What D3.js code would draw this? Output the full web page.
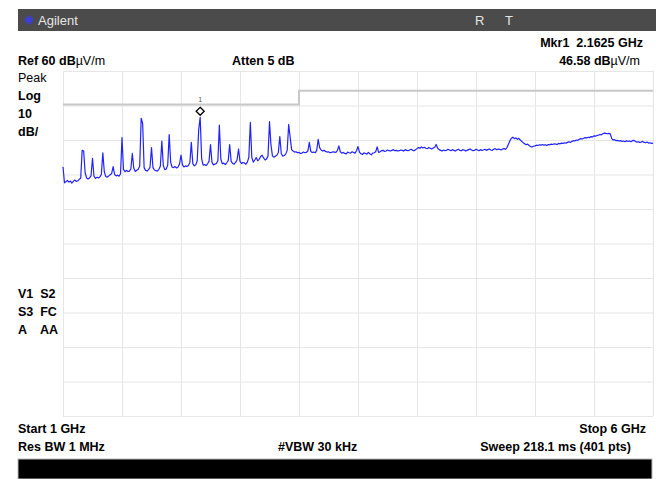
<!DOCTYPE html>
<html>
<head>
<meta charset="utf-8">
<script src="https://cdn.jsdelivr.net/npm/d3@7"></script>
<style>
  html, body { margin: 0; padding: 0; background: #fff; }
  svg { display: block; }
  text { font-family: "Liberation Sans", Arial, sans-serif; white-space: pre; }
</style>
</head>
<body>
<svg id="chart" width="656" height="479"></svg>
<script>
// ---- data ----
const startGHz = 1;
const stopGHz = 6;
const sweepPoints = 401;
const refLevel = 60;        // dBuV/m
const dbPerDiv = 10;
const divisions = 10;

// trace values, dBuV/m, one per sweep point (401)
const traceLevels = [
  32.2, 27.6, 27.9, 28.3, 27.8, 28.1, 27.5, 28.0, 28.4, 28.0,
  28.2, 28.6, 28.9, 37.0, 36.8, 30.5, 29.0, 28.7, 29.0, 29.6,
  34.7, 29.5, 28.9, 29.2, 29.0, 29.3, 30.0, 36.3, 30.8, 29.4,
  29.2, 29.6, 29.9, 30.3, 32.3, 30.0, 29.6, 29.8, 29.5, 30.2,
  40.7, 31.5, 30.8, 31.2, 30.9, 31.0, 31.6, 36.1, 31.8, 30.9,
  31.2, 31.5, 32.4, 46.3, 44.8, 32.0, 31.2, 31.0, 31.4, 32.1,
  37.8, 32.0, 31.3, 31.1, 31.0, 31.5, 32.4, 39.7, 32.6, 31.4,
  31.6, 32.8, 41.6, 33.5, 32.1, 32.0, 32.3, 31.9, 32.2, 33.0,
  35.6, 32.8, 32.2, 32.5, 32.3, 32.6, 33.4, 39.3, 33.2, 32.5,
  32.8, 34.0, 43.0, 46.6, 34.5, 32.7, 32.9, 32.6, 33.1, 33.8,
  38.7, 33.5, 32.8, 33.0, 33.2, 34.0, 44.3, 34.5, 33.1, 33.3,
  32.9, 33.4, 34.0, 38.7, 33.8, 33.2, 33.0, 33.5, 34.2, 37.4,
  33.8, 33.2, 33.5, 33.3, 33.0, 33.6, 35.0, 45.1, 35.0, 33.6,
  34.2, 34.9, 34.0, 34.4, 35.2, 35.6, 34.8, 34.2, 34.5, 35.4,
  45.3, 38.5, 35.4, 35.0, 35.3, 35.6, 36.4, 41.0, 36.0, 35.3,
  35.5, 35.9, 37.0, 44.5, 40.8, 37.2, 36.8, 36.5, 36.6, 36.3,
  36.4, 36.1, 36.2, 36.5, 36.3, 36.4, 36.8, 39.3, 36.7, 36.4,
  36.5, 36.3, 37.0, 40.2, 37.8, 37.1, 36.8, 37.0, 36.7, 36.5,
  36.6, 36.3, 36.4, 36.6, 36.5, 36.4, 36.9, 38.3, 36.6, 36.2,
  36.4, 36.1, 36.0, 36.5, 36.3, 36.2, 36.6, 36.4, 36.2, 36.9,
  38.1, 36.5, 36.0, 35.8, 36.3, 36.1, 35.9, 36.4, 36.0, 35.7,
  36.2, 36.3, 36.6, 38.0, 36.4, 36.6, 36.9, 37.0, 36.7, 36.8,
  37.1, 36.9, 36.8, 37.0, 37.2, 36.9, 37.0, 36.8, 36.9, 37.1,
  37.0, 36.8, 37.2, 37.0, 36.9, 37.1, 37.3, 37.0, 36.9, 37.2,
  37.5, 37.8, 37.6, 38.0, 37.7, 37.9, 37.6, 37.5, 37.8, 37.6,
  37.4, 37.7, 37.9, 38.7, 37.6, 37.2, 37.0, 36.8, 37.1, 36.9,
  37.0, 37.3, 37.1, 36.9, 37.2, 37.0, 36.8, 37.1, 37.3, 37.0,
  36.9, 37.2, 37.1, 36.8, 37.0, 37.2, 37.4, 37.1, 36.9, 37.0,
  37.3, 37.1, 36.9, 37.2, 37.0, 37.1, 37.3, 37.0, 37.2, 37.4,
  37.1, 37.0, 37.3, 37.5, 37.2, 37.4, 37.3, 37.1, 37.4, 37.5,
  37.3, 37.8, 38.8, 39.8, 40.5, 40.8, 40.4, 40.6, 40.2, 40.5,
  40.0, 39.6, 39.2, 38.9, 38.6, 38.8, 38.4, 38.1, 38.0, 38.2,
  38.3, 38.5, 38.4, 38.6, 38.5, 38.7, 38.5, 38.6, 38.4, 38.7,
  38.6, 38.8, 38.7, 38.9, 38.8, 38.7, 39.0, 38.9, 39.1, 39.0,
  39.2, 39.1, 39.3, 39.5, 39.3, 39.6, 39.8, 39.7, 40.0, 39.9,
  40.2, 40.4, 40.3, 40.5, 40.7, 40.6, 40.8, 40.7, 41.0, 40.9,
  41.2, 41.1, 41.3, 41.4, 41.6, 41.5, 41.8, 42.0, 41.9, 41.8,
  41.9, 41.8, 40.4, 40.0, 40.1, 39.8, 39.9, 39.7, 39.8, 39.6,
  39.7, 39.5, 39.8, 39.6, 39.7, 39.5, 39.8, 39.9, 39.6, 39.4,
  39.5, 39.3, 39.4, 39.6, 39.3, 39.2, 39.4, 39.1, 39.2, 39.0,
  39.1
];

// limit line (gray)
const limitFreqs = [1, 3, 3, 6];
const limitLevels = [50.3, 50.3, 54.3, 54.3];

// marker
const markerFreq = 2.1625;
const markerLevel = 46.58;
const markerLabel = "1";

// annotation texts
const headerTexts = {
  mkr: "Mkr1  2.1625 GHz",
  refA: "Ref 60 dB", refB: "\u00b5V/m",
  atten: "Atten 5 dB",
  mkrValA: "46.58 dB", mkrValB: "\u00b5V/m"
};
const leftLabels = ["Peak", "Log", "10", "dB/"];
const statusLabels = ["V1  S2", "S3  FC", "A    AA"];
const footer = {
  start: "Start 1 GHz", stop: "Stop 6 GHz",
  rbw: "Res BW 1 MHz", vbw: "#VBW 30 kHz", sweep: "Sweep 218.1 ms (401 pts)"
};

// ---- drawing ----
const svg = d3.select("#chart");
const plot = { left: 63, right: 653, top: 71, bottom: 416 };

const x = d3.scaleLinear().domain([startGHz, stopGHz]).range([plot.left, plot.right]);
const y = d3.scaleLinear().domain([refLevel - dbPerDiv * divisions, refLevel]).range([plot.bottom, plot.top]);

svg.append("rect").attr("width", 656).attr("height", 479).attr("fill", "#fff");

// title bar
svg.append("rect").attr("x", 18).attr("y", 9).attr("width", 638).attr("height", 22).attr("fill", "#4b4b4b");
const star = svg.append("g").attr("transform", "translate(29,20)").attr("stroke", "#3a3aff").attr("stroke-width", 1);
d3.range(0, 180, 30).forEach(a => {
  const r = 4.5, t = a * Math.PI / 180;
  star.append("line").attr("x1", -r * Math.cos(t)).attr("y1", -r * Math.sin(t))
    .attr("x2", r * Math.cos(t)).attr("y2", r * Math.sin(t));
});
svg.append("text").attr("x", 38).attr("y", 25).attr("fill", "#e6e6e6").attr("font-size", 13).text("Agilent");
svg.append("text").attr("x", 475).attr("y", 25).attr("fill", "#e6e6e6").attr("font-size", 13).text("R");
svg.append("text").attr("x", 505).attr("y", 25).attr("fill", "#e6e6e6").attr("font-size", 13).text("T");

// grid
const gridColor = "#e6e6e6";
const xGrid = d3.axisTop(x).tickValues(d3.range(0, divisions + 1).map(i => startGHz + i * (stopGHz - startGHz) / divisions))
  .tickSize(-(plot.bottom - plot.top)).tickFormat("");
const gx = svg.append("g").attr("transform", `translate(0,${plot.top})`).call(xGrid);
gx.select(".domain").remove();
gx.selectAll("line").attr("stroke", gridColor);

const yGrid = d3.axisLeft(y).tickValues(d3.range(0, divisions + 1).map(i => refLevel - i * dbPerDiv))
  .tickSize(-(plot.right - plot.left)).tickFormat("");
const gy = svg.append("g").attr("transform", `translate(${plot.left},0)`).call(yGrid);
gy.select(".domain").remove();
gy.selectAll("line").attr("stroke", gridColor);

// limit line
const limitData = limitFreqs.map((f, i) => [f, limitLevels[i]]);
svg.append("path").datum(limitData)
  .attr("d", d3.line().x(d => x(d[0])).y(d => y(d[1])))
  .attr("fill", "none").attr("stroke", "#c8c8c8").attr("stroke-width", 2);

// trace
const step = (stopGHz - startGHz) / (sweepPoints - 1);
const traceData = traceLevels.map((v, i) => [startGHz + i * step, v]);
svg.append("path").datum(traceData)
  .attr("d", d3.line().x(d => x(d[0])).y(d => y(d[1])))
  .attr("fill", "none").attr("stroke", "#2222ff").attr("stroke-width", 1.2)
  .attr("stroke-linejoin", "round");

// marker
const mx = x(markerFreq), my = y(markerLevel);
svg.append("path")
  .attr("d", `M${mx},${my - 10} L${mx + 4},${my - 6} L${mx},${my - 2} L${mx - 4},${my - 6} Z`)
  .attr("fill", "#fff").attr("stroke", "#000").attr("stroke-width", 1.3);
svg.append("text").attr("x", mx).attr("y", my - 15).attr("text-anchor", "middle")
  .attr("font-family", "DejaVu Sans Mono, monospace").attr("font-size", 7).attr("fill", "#555").text(markerLabel);

// header texts
const bold = sel => sel.attr("font-weight", "bold").attr("font-size", 12.5).attr("fill", "#000").attr("xml:space", "preserve");
bold(svg.append("text").attr("x", 643).attr("y", 47).attr("text-anchor", "end")).text(headerTexts.mkr);
const ref = bold(svg.append("text").attr("x", 18).attr("y", 65));
ref.append("tspan").text(headerTexts.refA);
ref.append("tspan").attr("font-weight", "normal").text(headerTexts.refB);
bold(svg.append("text").attr("x", 232).attr("y", 65)).text(headerTexts.atten);
const mv = bold(svg.append("text").attr("x", 640).attr("y", 65).attr("text-anchor", "end"));
mv.append("tspan").text(headerTexts.mkrValA);
mv.append("tspan").attr("font-weight", "normal").text(headerTexts.mkrValB);

// left labels
const leftY = [82, 100, 118, 136];
leftLabels.forEach((t, i) => {
  const s = svg.append("text").attr("x", 18).attr("y", leftY[i]).attr("font-size", 12.5).attr("fill", "#000").text(t);
  if (i > 0) s.attr("font-weight", "bold");
});
const statusY = [298, 316, 334];
statusLabels.forEach((t, i) => {
  svg.append("text").attr("x", 18).attr("y", statusY[i]).attr("font-size", 12.5).attr("font-weight", "bold")
    .attr("xml:space", "preserve").attr("fill", "#000").text(t);
});

// footer
bold(svg.append("text").attr("x", 18).attr("y", 433)).text(footer.start);
bold(svg.append("text").attr("x", 646).attr("y", 433).attr("text-anchor", "end")).text(footer.stop);
bold(svg.append("text").attr("x", 18).attr("y", 451)).text(footer.rbw);
bold(svg.append("text").attr("x", 278).attr("y", 451)).text(footer.vbw);
bold(svg.append("text").attr("x", 631).attr("y", 451).attr("text-anchor", "end")).text(footer.sweep);

// bottom black bar
svg.append("rect").attr("x", 18).attr("y", 459).attr("width", 634).attr("height", 20)
  .attr("fill", "#000").attr("stroke", "#bbb").attr("stroke-width", 1);
</script>
</body>
</html>
